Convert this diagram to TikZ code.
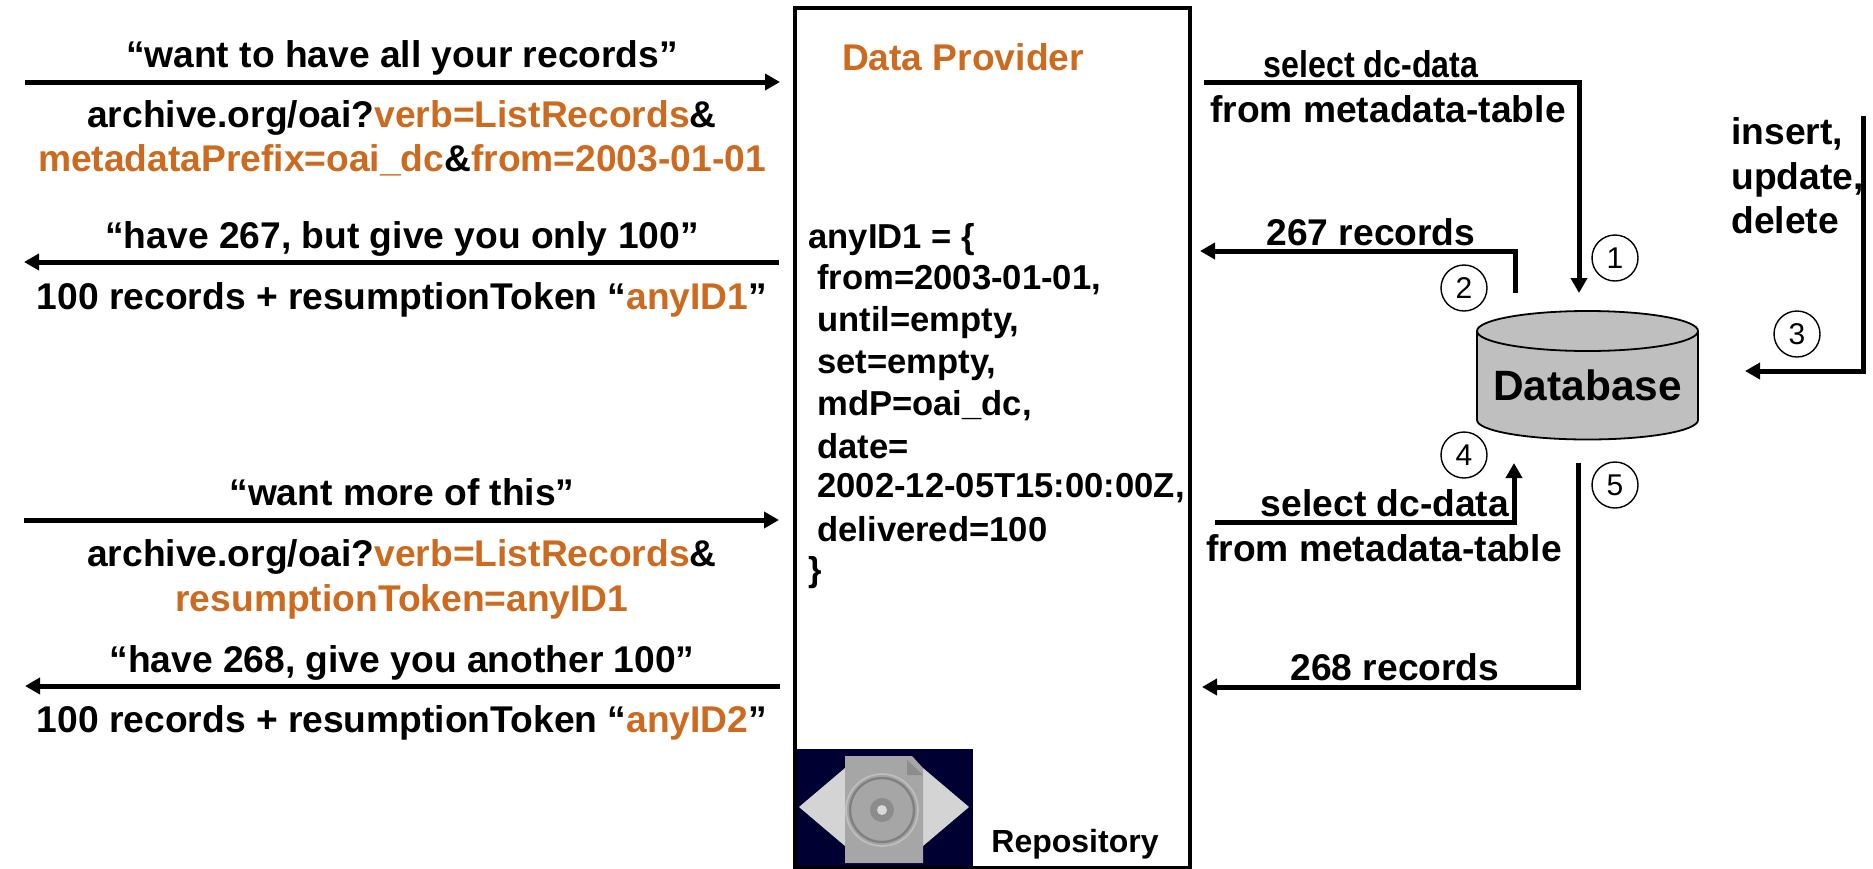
\documentclass[tikz,border=0pt]{standalone}
\usepackage{fontspec}
\setmainfont{Liberation Sans}
\usetikzlibrary{arrows.meta}
\definecolor{oaiorange}{HTML}{CC6A1F}
\definecolor{eyenavy}{HTML}{000033}
\newcommand{\hl}[1]{\textcolor{oaiorange}{#1}}
\tikzset{%
  msg/.style      = {font=\fontsize{18.6}{22}\selectfont\bfseries, inner sep=0pt},%
  msgleft/.style  = {msg, anchor=west},%
  tokenline/.style = {msgleft, font=\fontsize{17.3}{21}\selectfont\bfseries},%
  flow/.style     = {line width=2.5pt, -{Triangle[length=7.5pt,width=8pt]}},%
  stepno/.style   = {circle, draw, line width=0.7pt, minimum size=23pt, inner sep=0pt,%
                     font=\fontsize{15}{15}\selectfont},%
  dbshape/.style  = {draw, line width=0.9pt, fill=black!25},%
  dbname/.style   = {inner sep=0pt, font=\fontsize{21.2}{24}\selectfont\bfseries}%
}
\begin{document}
\begin{tikzpicture}[x=0.5pt,y=-0.5pt]
	\useasboundingbox (0,0) rectangle (1873,868);
	% repository picture
	\fill [eyenavy] (794,749) rectangle (973,868);
	\fill [black!17] (799,807) -- (845,768) -- (923,768) -- (969,807) -- (923,846) -- (845,846) -- cycle;
	\fill [black!35] (845,756) -- (912,756) -- (923,768) -- (923,863) -- (845,863) -- cycle;
	\fill [black!45] (907,760) -- (923,775) -- (907,775) -- cycle;
	\draw [black!50,line width=1.2pt] (882,810) circle (16pt);
	\draw [black!25,line width=0.8pt] (882,810) circle (18pt);
	\fill [black!45] (882,810) circle (6pt);
	\fill [black!15] (882,810) circle (2.5pt);
	% data provider box
	\node (provider) [draw,line width=2pt,inner sep=0pt,minimum width=197.5pt,minimum height=430pt] at (992.5,438) {};
	\node (providername) [msg,text=oaiorange] at (963,57) {Data Provider};
	\node (repository) [msg,font=\fontsize{16}{19}\selectfont\bfseries] at (1075,844) {Repository};
	\node (anyidhead) [tokenline] at (808,240) {anyID1 = \{};
	\node (anyidfrom) [tokenline] at (817,280) {from=2003-01-01,};
	\node (anyiduntil) [tokenline] at (817,323) {until=empty,};
	\node (anyidset) [tokenline] at (817,366) {set=empty,};
	\node (anyidmdp) [tokenline] at (817,406) {mdP=oai\_dc,};
	\node (anyiddate) [tokenline] at (817,446) {date=};
	\node (anyidstamp) [tokenline] at (817,488) {2002-12-05T15:00:00Z,};
	\node (anyiddeliv) [tokenline] at (817,529) {delivered=100};
	\node (anyidtail) [tokenline] at (808,573) {\}};
	% harvester side
	\node (wantall) [msg] at (402,58) {“want to have all your records”};
	\node (urlone) [msg] at (402,118) {archive.org/oai?\hl{verb=ListRecords}\&};
	\node (urltwo) [msg] at (402,160) {\hl{metadataPrefix=oai\_dc}\&\hl{from=2003-01-01}};
	\node (have) [msg] at (402,239) {“have 267, but give you only 100”};
	\node (recone) [msg] at (402,300) {100 records + resumptionToken “\hl{anyID1}”};
	\node (wantmore) [msg] at (402,492) {“want more of this”};
	\node (urlthree) [msg] at (402,557) {archive.org/oai?\hl{verb=ListRecords}\&};
	\node (urlfour) [msg] at (402,602) {\hl{resumptionToken=anyID1}};
	\node (havemore) [msg] at (402,663) {“have 268, give you another 100”};
	\node (rectwo) [msg] at (402,723) {100 records + resumptionToken “\hl{anyID2}”};
	\coordinate (a1) at (25,82);
	\coordinate (b1) at (780,82);
	\coordinate (a2) at (779,262);
	\coordinate (b2) at (24,262);
	\coordinate (a3) at (24,520);
	\coordinate (b3) at (779,520);
	\coordinate (a4) at (780,686);
	\coordinate (b4) at (25,686);
	\draw [flow] (a1) -- (b1);
	\draw [flow] (a2) -- (b2);
	\draw [flow] (a3) -- (b3);
	\draw [flow] (a4) -- (b4);
	% database side
	\draw [dbshape] (1477,331) -- (1477,420) arc [start angle=180,end angle=360,x radius=55.25pt,y radius=9.75pt] -- (1698,331);
	\draw [dbshape] (1587.5,331) ellipse [x radius=55.25pt,y radius=10pt];
	\node (db) [dbname] at (1587.5,385) {Database};
	\node (selectone) [msg] at (1371,64) {\addfontfeature{FakeStretch=0.865}select dc-data};
	\node (tableone) [msg] at (1388,109) {from metadata-table};
	\node (recsone) [msg] at (1371,232) {267 records};
	\node (selecttwo) [msg] at (1385,503) {select dc-data};
	\node (tabletwo) [msg] at (1384,548) {from metadata-table};
	\node (recstwo) [msg] at (1395,667) {268 records};
	\node (insert) [msgleft] at (1731,134) {insert,};
	\node (update) [msgleft] at (1731,180) {update,};
	\node (delete) [msgleft] at (1731,220) {delete};
	\node (n1) [stepno] at (1615,258) {1};
	\node (n2) [stepno] at (1464,288) {2};
	\node (n3) [stepno] at (1797,334) {3};
	\node (n4) [stepno] at (1464,455) {4};
	\node (n5) [stepno] at (1615,485) {5};
	\coordinate (s1) at (1204,82);
	\coordinate (e1) at (1579,293);
	\coordinate (s2) at (1515,293);
	\coordinate (e2) at (1200,251);
	\coordinate (s3) at (1863,116);
	\coordinate (e3) at (1745,371);
	\coordinate (s4) at (1215,522);
	\coordinate (e4) at (1514,463);
	\coordinate (s5) at (1578,463);
	\coordinate (e5) at (1202,687);
	\draw [flow] (s1) -| (e1);
	\draw [flow] (s2) |- (e2);
	\draw [flow] (s3) |- (e3);
	\draw [flow] (s4) -| (e4);
	\draw [flow] (s5) |- (e5);
\end{tikzpicture}
\end{document}
